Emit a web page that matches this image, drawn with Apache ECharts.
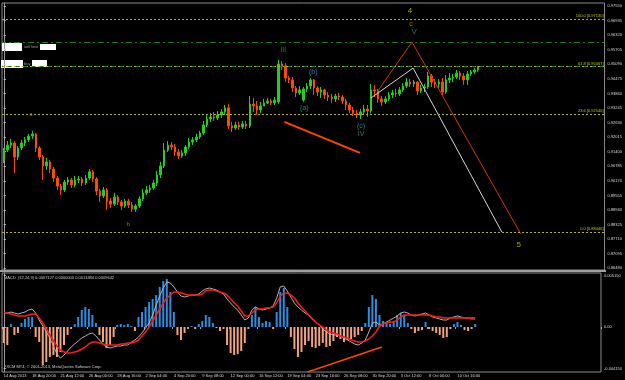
<!DOCTYPE html>
<html>
<head>
<meta charset="utf-8">
<script src="https://cdn.jsdelivr.net/npm/echarts@6/dist/echarts.min.js"></script>
<style>
html, body { margin: 0; padding: 0; background: #000; }
#main { width: 625px; height: 380px; }
</style>
</head>
<body>
<div id="main"></div>
<script>
// 4h-style candles (two MT4 bars per candle)
const dateLabels = ['14 Aug 2013', '18 Aug 20:00', '21 Aug 12:00', '26 Aug 00:00', '28 Aug 16:00', '2 Sep 04:00',
    '4 Sep 20:00', '9 Sep 08:00', '12 Sep 00:00', '16 Sep 12:00', '19 Sep 04:00', '23 Sep 16:00',
    '26 Sep 08:00', '30 Sep 20:00', '3 Oct 12:00', '8 Oct 00:00', '10 Oct 16:00'];

const opens = [
    0.9105, 0.9147, 0.9168, 0.9177, 0.9118, 0.9156, 0.9177, 0.9190, 0.9206, 0.9215,
    0.9156, 0.9118, 0.9080, 0.9097, 0.9067, 0.9029, 0.8995, 0.8979, 0.9012, 0.9021,
    0.9000, 0.9021, 0.9025, 0.9008, 0.9029, 0.9055, 0.9025, 0.8974, 0.8953, 0.8979,
    0.8932, 0.8919, 0.8949, 0.8928, 0.8911, 0.8932, 0.8915, 0.8898, 0.8911, 0.8941,
    0.8966, 0.8979, 0.8987, 0.9008, 0.9042, 0.9080, 0.9147, 0.9168, 0.9160, 0.9139,
    0.9122, 0.9135, 0.9160, 0.9181, 0.9190, 0.9202, 0.9219, 0.9253, 0.9278, 0.9287,
    0.9282, 0.9295, 0.9308, 0.9325, 0.9249, 0.9240, 0.9253, 0.9244, 0.9257, 0.9249,
    0.9341, 0.9333, 0.9316, 0.9333, 0.9346, 0.9354, 0.9346, 0.9350, 0.9510, 0.9502,
    0.9451, 0.9443, 0.9409, 0.9388, 0.9358, 0.9405, 0.9417, 0.9443, 0.9409, 0.9392,
    0.9401, 0.9379, 0.9371, 0.9363, 0.9375, 0.9371, 0.9354, 0.9337, 0.9316, 0.9303,
    0.9295, 0.9308, 0.9320, 0.9312, 0.9401, 0.9396, 0.9363, 0.9350, 0.9363, 0.9379,
    0.9388, 0.9384, 0.9401, 0.9417, 0.9434, 0.9426, 0.9434, 0.9396, 0.9409, 0.9413,
    0.9460, 0.9434, 0.9426, 0.9434, 0.9392, 0.9443, 0.9451, 0.9455, 0.9472, 0.9460,
    0.9443, 0.9468, 0.9477, 0.9485
];
const closes = [
    0.9147, 0.9168, 0.9177, 0.9118, 0.9156, 0.9177, 0.9190, 0.9206, 0.9215, 0.9156,
    0.9118, 0.9080, 0.9097, 0.9067, 0.9029, 0.8995, 0.8979, 0.9012, 0.9021, 0.9000,
    0.9021, 0.9025, 0.9008, 0.9029, 0.9055, 0.9025, 0.8974, 0.8953, 0.8979, 0.8932,
    0.8919, 0.8949, 0.8928, 0.8911, 0.8932, 0.8915, 0.8898, 0.8911, 0.8941, 0.8966,
    0.8979, 0.8987, 0.9008, 0.9042, 0.9080, 0.9147, 0.9168, 0.9160, 0.9139, 0.9122,
    0.9135, 0.9160, 0.9181, 0.9190, 0.9202, 0.9219, 0.9253, 0.9278, 0.9287, 0.9282,
    0.9295, 0.9308, 0.9325, 0.9249, 0.9240, 0.9253, 0.9244, 0.9257, 0.9249, 0.9341,
    0.9333, 0.9316, 0.9333, 0.9346, 0.9354, 0.9346, 0.9358, 0.9510, 0.9502, 0.9451,
    0.9443, 0.9409, 0.9388, 0.9401, 0.9405, 0.9417, 0.9443, 0.9409, 0.9392, 0.9401,
    0.9379, 0.9371, 0.9363, 0.9375, 0.9371, 0.9354, 0.9337, 0.9316, 0.9303, 0.9295,
    0.9308, 0.9320, 0.9312, 0.9401, 0.9396, 0.9363, 0.9350, 0.9363, 0.9379, 0.9388,
    0.9384, 0.9401, 0.9417, 0.9434, 0.9426, 0.9434, 0.9396, 0.9409, 0.9413, 0.9460,
    0.9434, 0.9426, 0.9434, 0.9392, 0.9443, 0.9451, 0.9455, 0.9472, 0.9460, 0.9443,
    0.9468, 0.9477, 0.9485, 0.94983
];
const lows = [
    0.9092, 0.9139, 0.9156, 0.9050, 0.9105, 0.9147, 0.9164, 0.9181, 0.9194, 0.9139,
    0.9105, 0.9021, 0.9063, 0.9050, 0.9012, 0.8979, 0.8957, 0.8970, 0.9000, 0.8987,
    0.8991, 0.9008, 0.8995, 0.9000, 0.9021, 0.9012, 0.8957, 0.8928, 0.8945, 0.8894,
    0.8903, 0.8911, 0.8915, 0.8894, 0.8903, 0.8903, 0.8886, 0.8886, 0.8903, 0.8932,
    0.8957, 0.8966, 0.8979, 0.8995, 0.9029, 0.9071, 0.9139, 0.9147, 0.9122, 0.9109,
    0.9114, 0.9122, 0.9152, 0.9168, 0.9181, 0.9194, 0.9211, 0.9244, 0.9266, 0.9270,
    0.9274, 0.9282, 0.9295, 0.9236, 0.9223, 0.9232, 0.9232, 0.9236, 0.9236, 0.9240,
    0.9308, 0.9295, 0.9303, 0.9333, 0.9341, 0.9337, 0.9337, 0.9341, 0.9485, 0.9434,
    0.9430, 0.9392, 0.9371, 0.9379, 0.9350, 0.9392, 0.9405, 0.9379, 0.9375, 0.9367,
    0.9363, 0.9354, 0.9346, 0.9350, 0.9358, 0.9341, 0.9316, 0.9303, 0.9291, 0.9282,
    0.9278, 0.9299, 0.9287, 0.9303, 0.9371, 0.9346, 0.9333, 0.9341, 0.9354, 0.9367,
    0.9371, 0.9375, 0.9392, 0.9409, 0.9413, 0.9413, 0.9379, 0.9388, 0.9392, 0.9405,
    0.9413, 0.9409, 0.9409, 0.9379, 0.9384, 0.9430, 0.9434, 0.9447, 0.9443, 0.9422,
    0.9422, 0.9460, 0.9468, 0.9477
];
const highs = [
    0.9156, 0.9185, 0.9194, 0.9185, 0.9164, 0.9190, 0.9202, 0.9215, 0.9228, 0.9219,
    0.9164, 0.9126, 0.9114, 0.9105, 0.9076, 0.9038, 0.9004, 0.9021, 0.9033, 0.9029,
    0.9038, 0.9038, 0.9033, 0.9042, 0.9067, 0.9063, 0.9033, 0.8983, 0.8991, 0.8987,
    0.8945, 0.8966, 0.8957, 0.8936, 0.8941, 0.8941, 0.8928, 0.8919, 0.8953, 0.8983,
    0.8995, 0.9000, 0.9021, 0.9059, 0.9097, 0.9177, 0.9185, 0.9181, 0.9173, 0.9152,
    0.9147, 0.9168, 0.9198, 0.9202, 0.9215, 0.9228, 0.9270, 0.9295, 0.9303, 0.9308,
    0.9312, 0.9320, 0.9337, 0.9341, 0.9266, 0.9266, 0.9266, 0.9270, 0.9270, 0.9375,
    0.9367, 0.9354, 0.9350, 0.9363, 0.9367, 0.9363, 0.9371, 0.9527, 0.9523, 0.9514,
    0.9460, 0.9455, 0.9417, 0.9417, 0.9413, 0.9430, 0.9451, 0.9447, 0.9417, 0.9413,
    0.9405, 0.9392, 0.9384, 0.9384, 0.9388, 0.9379, 0.9363, 0.9346, 0.9329, 0.9316,
    0.9320, 0.9337, 0.9337, 0.9426, 0.9422, 0.9405, 0.9375, 0.9375, 0.9392, 0.9401,
    0.9405, 0.9413, 0.9430, 0.9451, 0.9447, 0.9443, 0.9439, 0.9422, 0.9426, 0.9477,
    0.9468, 0.9447, 0.9447, 0.9451, 0.9464, 0.9472, 0.9468, 0.9485, 0.9481, 0.9472,
    0.9481, 0.9485, 0.9493, 0.9502
];

const macdHist = [
    -0.0016, -0.0018, 0.0003, -0.0008, -0.0006, 0.0004, 0.0008, 0.0010, 0.0010, -0.0010,
    -0.0015, -0.0038, -0.0035, -0.0030, -0.0028, -0.0030, -0.0025, -0.0018, -0.0008, -0.0002,
    0.0003, 0.0010, 0.0017, 0.0020, 0.0018, 0.0012, 0.0004, -0.0008, -0.0015, -0.0021,
    -0.0018, -0.0010, 0.0002, 0.0003, 0.0002, 0.0003, 0.0001, -0.0004, 0.0010, 0.0015,
    0.0020, 0.0025, 0.0028, 0.0032, 0.0040, 0.0046, 0.0048, 0.0035, 0.0015, -0.0008,
    -0.0013, -0.0006, -0.0002, 0.0001, -0.0002, 0.0003, 0.0006, 0.0012, 0.0010, 0.0004,
    -0.0001, -0.0004, -0.0002, -0.0018, -0.0026, -0.0028, -0.0027, -0.0024, -0.0016, -0.0002,
    0.0012, 0.0020, 0.0010, 0.0004, 0.0006, 0.0005, -0.0002, 0.0015, 0.0035, 0.0039,
    0.0020, -0.0010, -0.0022, -0.0030, -0.0025, -0.0018, -0.0014, -0.0020, -0.0021, -0.0019,
    -0.0016, -0.0020, -0.0019, -0.0014, -0.0010, -0.0012, -0.0015, -0.0013, -0.0012, -0.0010,
    -0.0008, -0.0004, 0.0004, 0.0020, 0.0032, 0.0028, 0.0012, 0.0006, 0.0004, 0.0003,
    0.0006, 0.0012, 0.0014, 0.0012, 0.0004, -0.0002, -0.0006, -0.0004, -0.0003, 0.0005,
    -0.0002, -0.0004, -0.0006, -0.0008, -0.0011, -0.0010, -0.0002, 0.0003, 0.0005, 0.0002,
    -0.0003, -0.0004, -0.0002, 0.0003
];
const macdMain = [
    0.0013, 0.0014, 0.0015, 0.0014, 0.0013, 0.0014, 0.0015, 0.0017, 0.0018, 0.0014,
    0.0007, 0.0001, -0.0005, -0.0011, -0.0019, -0.0027, -0.0031, -0.0028, -0.0024, -0.0020,
    -0.0017, -0.0014, -0.0011, -0.0009, -0.0007, -0.0006, -0.0009, -0.0013, -0.0017, -0.0020,
    -0.0021, -0.0020, -0.0019, -0.0019, -0.0018, -0.0018, -0.0015, -0.0013, -0.0010, -0.0006,
    -0.0001, 0.0004, 0.0012, 0.0022, 0.0031, 0.0039, 0.0045, 0.0044, 0.0040, 0.0035,
    0.0031, 0.0030, 0.0031, 0.0032, 0.0032, 0.0033, 0.0036, 0.0038, 0.0039, 0.0038,
    0.0037, 0.0035, 0.0033, 0.0028, 0.0024, 0.0020, 0.0017, 0.0012, 0.0007, 0.0009,
    0.0017, 0.0020, 0.0018, 0.0017, 0.0018, 0.0019, 0.0021, 0.0029, 0.0040, 0.0041,
    0.0036, 0.0030, 0.0024, 0.0020, 0.0017, 0.0014, 0.0012, 0.0009, 0.0005, 0.0002,
    -0.0002, -0.0005, -0.0007, -0.0008, -0.0008, -0.0009, -0.0011, -0.0013, -0.0015, -0.0017,
    -0.0018, -0.0016, -0.0013, -0.0005, 0.0004, 0.0005, 0.0002, 0.0003, 0.0005, 0.0007,
    0.0009, 0.0011, 0.0014, 0.0015, 0.0014, 0.0012, 0.0011, 0.0012, 0.0013, 0.0014,
    0.0012, 0.0010, 0.0009, 0.0008, 0.0007, 0.0007, 0.0009, 0.0010, 0.0011, 0.0010,
    0.0009, 0.0009, 0.0009, 0.0009
];
const macdSignal = [
    0.0014, 0.0014, 0.0013, 0.0012, 0.0011, 0.0011, 0.0011, 0.0012, 0.0013, 0.0013,
    0.0009, 0.0004, -0.0002, -0.0008, -0.0014, -0.0019, -0.0023, -0.0025, -0.0026, -0.0026,
    -0.0025, -0.0024, -0.0022, -0.0020, -0.0017, -0.0015, -0.0015, -0.0016, -0.0017, -0.0018,
    -0.0018, -0.0018, -0.0018, -0.0017, -0.0017, -0.0016, -0.0016, -0.0015, -0.0013, -0.0009,
    -0.0005, 0.0000, 0.0006, 0.0012, 0.0018, 0.0024, 0.0029, 0.0032, 0.0035, 0.0035,
    0.0034, 0.0033, 0.0032, 0.0032, 0.0032, 0.0032, 0.0033, 0.0036, 0.0037, 0.0037,
    0.0036, 0.0035, 0.0034, 0.0032, 0.0028, 0.0024, 0.0021, 0.0016, 0.0011, 0.0011,
    0.0014, 0.0017, 0.0018, 0.0018, 0.0019, 0.0019, 0.0020, 0.0024, 0.0031, 0.0034,
    0.0034, 0.0032, 0.0029, 0.0024, 0.0020, 0.0016, 0.0012, 0.0008, 0.0005, 0.0002,
    0.0000, -0.0003, -0.0005, -0.0006, -0.0007, -0.0009, -0.0010, -0.0011, -0.0013, -0.0014,
    -0.0015, -0.0015, -0.0014, -0.0012, -0.0009, -0.0005, 0.0001, 0.0003, 0.0004, 0.0005,
    0.0005, 0.0007, 0.0010, 0.0012, 0.0012, 0.0012, 0.0012, 0.0012, 0.0012, 0.0012,
    0.0012, 0.0011, 0.0010, 0.0010, 0.0009, 0.0009, 0.0009, 0.0009, 0.0009, 0.0009,
    0.0009, 0.0009, 0.0008, 0.0008
];

const priceTicks = [0.97550, 0.96935, 0.96320, 0.95705, 0.95090, 0.94475, 0.93860, 0.93245, 0.92630,
    0.92015, 0.91400, 0.90785, 0.90170, 0.89555, 0.88940, 0.88325, 0.87710, 0.87095, 0.86480];
const macdTicks = [0.00515, 0, -0.00415];

const fibLevels = [0.97130, 0.95067, 0.92546, 0.88446];
const fibNames = ['100.0', '61.8', '23.6', '0.0'];
const orderLevels = [0.95693, 0.95067];

// hand-drawn analysis objects: [bar index, price]
const waveRed = [[104.7, 0.9392], [114.5, 0.9603], [145.0, 0.8793]];
const waveWhite = [[103.0, 0.9367], [114.8, 0.9493], [139.7, 0.8801]];
const priceTrend = [[78.7, 0.9266], [99.9, 0.9135]];
const macdTrend = [[85.7, -0.0045], [106.7, -0.0020]];

const waveText = ['a', 'b', 'III', '(b)', '(a)', '(c)', 'IV', '4', 'c', 'V', '5'];
const waveX = [7.6, 35.0, 78.4, 86.8, 84.3, 100.2, 100.2, 113.9, 114.2, 115.1, 144.4];
const waveY = [0.9299, 0.8835, 0.9569, 0.9476, 0.9325, 0.9249, 0.9215, 0.9734, 0.9679, 0.9645, 0.8746];
const waveColor = ['#f09000', '#e08a00', '#2ea06c', '#3a9be0', '#1fa8a8', '#1fa8a8', '#2ea06c',
    '#d0d000', '#f09000', '#2ea06c', '#d0d000'];
const waveSize = [6, 6, 7, 7, 7, 7, 7, 8, 7, 8, 8];

const slots = 169;
const cats = [];
for (let i = 0; i < slots; i++) {
    cats.push(i % 8 === 0 && dateLabels[i / 8] ? dateLabels[i / 8] : '');
}
const lastClose = closes[closes.length - 1];
const labelEvery = (i) => i % 8 === 0 && i / 8 < dateLabels.length;

const chart = echarts.init(document.getElementById('main'));

const fibMarks = fibLevels.map((v, i) => ({
    yAxis: v,
    lineStyle: { color: '#b8b800', type: [2, 2], width: 1 },
    label: {
        show: true,
        position: 'insideEndTop',
        distance: [1, 1],
        formatter: fibNames[i] + ' [' + v.toFixed(5) + ']',
        color: '#c8c800',
        fontSize: 4
    }
}));
const orderMarks = orderLevels.map((v, i) => ({
    yAxis: v,
    lineStyle: { color: '#1f7f1f', type: i === 0 ? [6, 3, 2, 3] : [3, 5], dashOffset: 2, width: 1 },
    label: { show: false }
}));

const option = {
    animation: false,
    backgroundColor: '#000',
    textStyle: { fontFamily: 'Liberation Sans' },
    grid: [
        { left: 2, right: 19, top: 3, height: 267, show: true, borderColor: '#8c8c8c', borderWidth: 1, backgroundColor: '#000' },
        { left: 2, right: 19, top: 273, height: 99, show: true, borderColor: '#8c8c8c', borderWidth: 1, backgroundColor: '#000' }
    ],
    xAxis: [
        { type: 'category', gridIndex: 0, data: cats, boundaryGap: true, axisLine: { show: false }, axisTick: { show: false }, axisLabel: { show: false } },
        { type: 'value', gridIndex: 0, min: -0.5, max: slots - 0.5, show: false },
        {
            type: 'category', gridIndex: 1, data: cats, boundaryGap: true,
            axisLine: { show: false },
            axisTick: { show: true, interval: labelEvery, length: 2, lineStyle: { color: '#aaa' } },
            axisLabel: { interval: labelEvery, align: 'left', fontSize: 4, color: '#dcdcdc', margin: 2 }
        },
        { type: 'value', gridIndex: 1, min: -0.5, max: slots - 0.5, show: false }
    ],
    yAxis: [
        {
            type: 'value', gridIndex: 0, position: 'right', min: 0.86409, max: 0.97676,
            splitLine: { show: false },
            axisLine: { show: true, lineStyle: { color: '#9a9a9a' } },
            axisTick: { show: true, customValues: priceTicks, length: 2, lineStyle: { color: '#ccc' } },
            axisLabel: { customValues: priceTicks, formatter: (v) => v.toFixed(5), fontSize: 4, color: '#dcdcdc', margin: 3 }
        },
        {
            type: 'value', gridIndex: 1, position: 'right', min: -0.0045, max: 0.0054,
            splitLine: { show: false },
            axisLine: { show: true, lineStyle: { color: '#9a9a9a' } },
            axisTick: { show: true, customValues: macdTicks, length: 2, lineStyle: { color: '#ccc' } },
            axisLabel: {
                customValues: macdTicks,
                formatter: (v) => (v === 0 ? '0.00' : v.toFixed(6)),
                fontSize: 4, color: '#dcdcdc', margin: 3
            }
        }
    ],
    series: [
        {
            type: 'candlestick',
            xAxisIndex: 0, yAxisIndex: 0,
            barWidth: 2,
            data: opens.map((o, i) => [o, closes[i], lows[i], highs[i]]),
            itemStyle: { color: '#1ed21e', color0: '#ff4a00', borderColor: '#1ed21e', borderColor0: '#ff4a00', borderWidth: 1 },
            markLine: {
                silent: true,
                symbol: ['none', 'none'],
                data: fibMarks.concat(orderMarks, [{
                    yAxis: lastClose,
                    lineStyle: { opacity: 0 },
                    label: {
                        show: true, position: 'end', distance: 2,
                        formatter: lastClose.toFixed(5),
                        backgroundColor: '#fff', color: '#000', fontSize: 4, padding: [1, 2]
                    }
                }])
            }
        },
        {
            type: 'line', xAxisIndex: 1, yAxisIndex: 0, data: waveRed, symbol: 'none',
            lineStyle: { color: '#d03a00', width: 1 }
        },
        {
            type: 'line', xAxisIndex: 1, yAxisIndex: 0, data: waveWhite, symbol: 'none',
            lineStyle: { color: '#d8d8d8', width: 1 }
        },
        {
            type: 'line', xAxisIndex: 1, yAxisIndex: 0, data: priceTrend, symbol: 'none',
            lineStyle: { color: '#ff4500', width: 2 }
        },
        {
            type: 'scatter', xAxisIndex: 1, yAxisIndex: 0, symbolSize: 0, z: 5,
            data: waveText.map((t, i) => ({
                value: [waveX[i], waveY[i]],
                label: { show: true, position: 'inside', formatter: t, color: waveColor[i], fontSize: waveSize[i] }
            }))
        },
        {
            type: 'bar', xAxisIndex: 2, yAxisIndex: 1, barWidth: 2,
            data: macdHist.map((v) => ({ value: v, itemStyle: { color: v >= 0 ? '#2a8fe0' : '#f2a47c' } }))
        },
        {
            type: 'line', xAxisIndex: 2, yAxisIndex: 1, data: macdMain, symbol: 'none',
            lineStyle: { color: '#b4b4b4', width: 1 }
        },
        {
            type: 'line', xAxisIndex: 2, yAxisIndex: 1, data: macdSignal, symbol: 'none',
            lineStyle: { color: '#ff1a1a', width: 1.5 }
        },
        {
            type: 'line', xAxisIndex: 3, yAxisIndex: 1, data: macdTrend, symbol: 'none',
            lineStyle: { color: '#ff4500', width: 1.5 }
        }
    ],
    graphic: [
        { type: 'rect', shape: { x: 0, y: 270, width: 606, height: 2 }, style: { fill: '#a0a0a0' } },
        { type: 'rect', shape: { x: 2, y: 43, width: 20, height: 8 }, style: { fill: '#fff' } },
        { type: 'text', x: 24, y: 45, style: { text: 'sell limit', fill: '#9a9a9a', fontSize: 4, fontFamily: 'Liberation Sans' } },
        { type: 'rect', shape: { x: 40, y: 44, width: 16, height: 6 }, style: { fill: '#fff' } },
        { type: 'rect', shape: { x: 1, y: 60, width: 22, height: 8 }, style: { fill: '#fff' } },
        { type: 'text', x: 24, y: 62, style: { text: 'buy', fill: '#9a9a9a', fontSize: 4, fontFamily: 'Liberation Sans' } },
        { type: 'rect', shape: { x: 32, y: 60, width: 15, height: 7 }, style: { fill: '#fff' } },
        {
            type: 'text', x: 4, y: 276,
            style: { text: 'MACD  (12,24,9) 0.0007127 0.0000000 0.0013484 0.0009642', fill: '#d0d0d0', fontSize: 4, fontFamily: 'Liberation Sans' }
        },
        {
            type: 'text', x: 4, y: 365,
            style: { text: 'FXCM MT4, © 2001-2013, MetaQuotes Software Corp.', fill: '#d0d0d0', fontSize: 4, fontFamily: 'Liberation Sans' }
        }
    ]
};

chart.setOption(option);
</script>
</body>
</html>
